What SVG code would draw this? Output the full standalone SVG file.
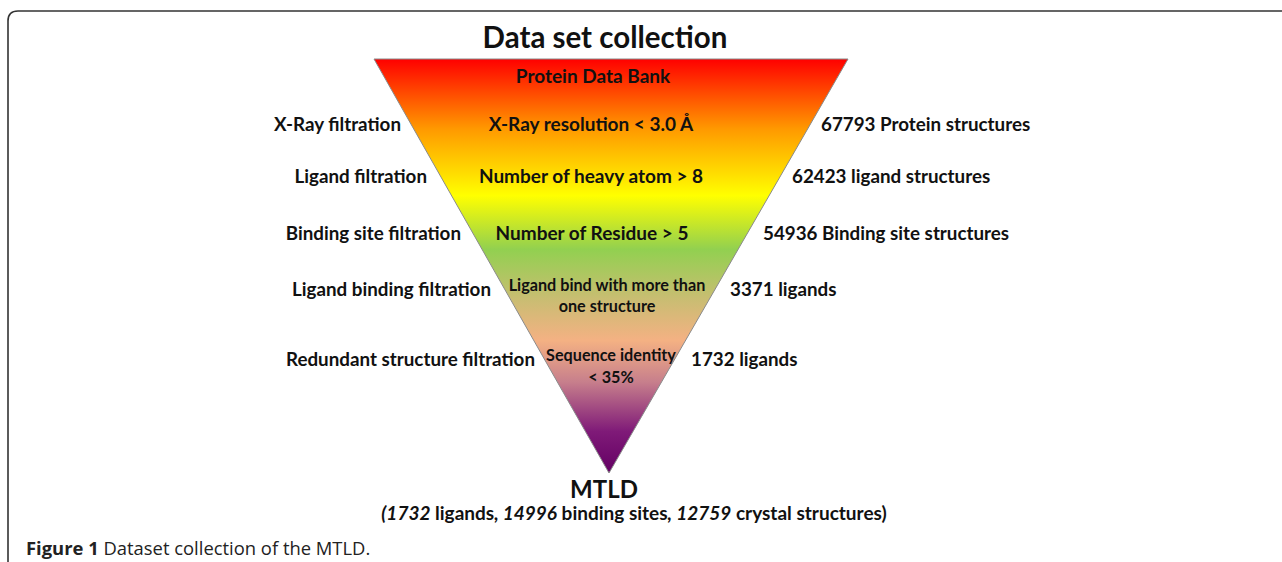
<svg xmlns="http://www.w3.org/2000/svg" width="1282" height="562" viewBox="0 0 1282 562">
  <style>
    .lbl { font-family: Lato, "Open Sans", sans-serif; font-weight: bold; font-size: 18.8px; fill: #111; }
    .in { font-family: Lato, "Open Sans", sans-serif; font-weight: bold; font-size: 19px; fill: #111; text-anchor: middle; }
    .sm { font-size: 16.2px; }
    .l { text-anchor: end; }
    .r { text-anchor: start; }
    .cap { font-family: "Open Sans", "Noto Sans", sans-serif; font-size: 18.4px; fill: #222; }
  </style>
  <defs>
    <linearGradient id="funnelFill" x1="0" y1="59" x2="0" y2="473" gradientUnits="userSpaceOnUse">
      <stop offset="0" stop-color="#ff0000"/>
      <stop offset="0.17" stop-color="#ff9a00"/>
      <stop offset="0.33" stop-color="#ffff00"/>
      <stop offset="0.46" stop-color="#92d050"/>
      <stop offset="0.58" stop-color="#c9bd72"/>
      <stop offset="0.68" stop-color="#f4b183"/>
      <stop offset="0.78" stop-color="#c77f8c"/>
      <stop offset="0.90" stop-color="#7f1a78"/>
      <stop offset="1" stop-color="#640064"/>
    </linearGradient>
  </defs>

  <rect width="1282" height="562" fill="#fff"/>
  <!-- figure frame: top and left rules with rounded corner -->
  <path d="M8,562 V21 Q8,11 18,11 H1282" fill="none" stroke="#333" stroke-width="1.6"/>

  <!-- title -->
  <text x="605" y="48" font-family="Lato, 'Open Sans', sans-serif" font-weight="bold" font-size="29.5" fill="#111" text-anchor="middle">Data set collection</text>

  <!-- funnel -->
  <g id="funnel">
    <polygon points="374,59 848,59 609,473" fill="url(#funnelFill)" stroke="#8a8a8a" stroke-width="1"/>
    <text class="in" x="593" y="83">Protein Data Bank</text>
    <text class="in" x="591" y="131">X-Ray resolution &lt; 3.0 Å</text>
    <text class="in" x="591" y="183">Number of heavy atom &gt; 8</text>
    <text class="in" x="592" y="240">Number of Residue &gt; 5</text>
    <text class="in sm" x="607" y="291">Ligand bind with more than</text>
    <text class="in sm" x="607" y="312">one structure</text>
    <text class="in sm" x="611" y="361">Sequence identity</text>
    <text class="in sm" x="611" y="383">&lt; 35%</text>
  </g>

  <!-- filtration steps -->
  <g id="steps">
    <text class="lbl l" x="401" y="131">X-Ray filtration</text>
    <text class="lbl l" x="427" y="183">Ligand filtration</text>
    <text class="lbl l" x="461" y="240">Binding site filtration</text>
    <text class="lbl l" x="491" y="296">Ligand binding filtration</text>
    <text class="lbl l" x="535" y="366">Redundant structure filtration</text>
  </g>

  <!-- counts after each step -->
  <g id="counts">
    <text class="lbl r" x="821" y="131">67793 Protein structures</text>
    <text class="lbl r" x="792" y="183">62423 ligand structures</text>
    <text class="lbl r" x="763" y="240">54936 Binding site structures</text>
    <text class="lbl r" x="730" y="296">3371 ligands</text>
    <text class="lbl r" x="691" y="366">1732 ligands</text>
  </g>

  <!-- result -->
  <g id="result">
    <text x="604" y="498" font-family="Lato, 'Open Sans', sans-serif" font-weight="bold" font-size="24" fill="#111" text-anchor="middle">MTLD</text>
    <text x="634" y="520" font-family="Lato, 'Open Sans', sans-serif" font-weight="bold" font-size="19" fill="#111" text-anchor="middle"><tspan font-style="italic">(1732</tspan> ligands<tspan font-style="italic">, 14996</tspan> binding sites<tspan font-style="italic">, 12759</tspan> crystal structures)</text>
  </g>

  <!-- caption -->
  <text class="cap" x="26" y="555"><tspan font-weight="bold">Figure 1</tspan> Dataset collection of the MTLD.</text>
</svg>
